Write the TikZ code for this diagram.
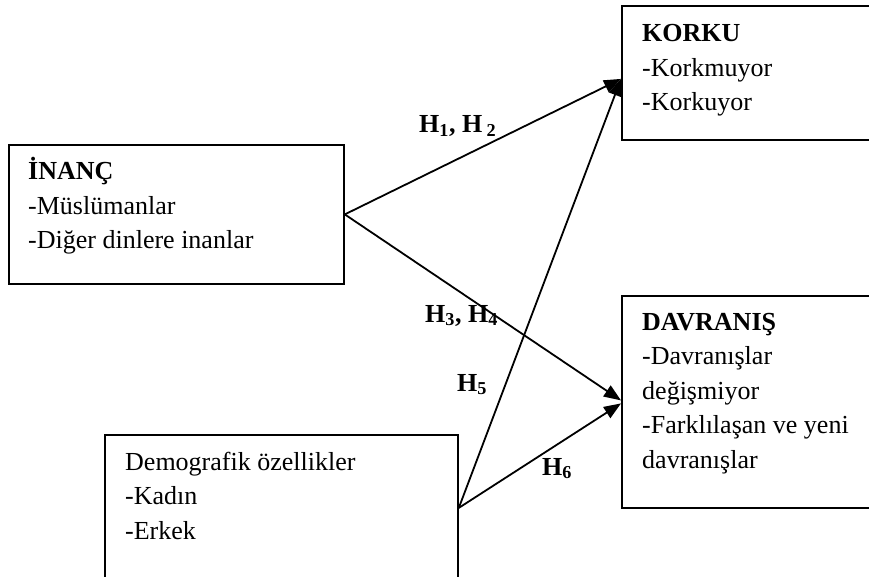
\documentclass[tikz,border=0pt]{standalone}
\usepackage{fontspec}
\setmainfont{Liberation Serif}
\usetikzlibrary{arrows.meta,calc}
\tikzset{
  box/.style={draw, line width=1.8pt, rectangle, inner sep=0pt, anchor=north west},
  txt/.style={anchor=base west, inner sep=0pt, font=\fontsize{26}{34.5}\selectfont},
  hlab/.style={anchor=base west, inner sep=0pt, font=\fontsize{26}{30}\selectfont\bfseries},
  conn/.style={line width=1.8pt, -{Triangle[length=17pt,width=13pt]}},
}
\begin{document}
\begin{tikzpicture}[x=1pt,y=-1pt]
\useasboundingbox (0,0) rectangle (869,577);
\clip (0,0) rectangle (869,577);
% boxes
\node[box, minimum width=269pt, minimum height=134pt] (K) at (621,5) {};
\node[box, minimum width=335pt, minimum height=139pt] (I) at (8,144) {};
\node[box, minimum width=269pt, minimum height=212pt] (D) at (621,295) {};
\node[box, minimum width=353pt, minimum height=146pt] (G) at (104,434) {};
% texts
\node[txt] (Kt) at (642,42) {\parbox[t]{220pt}{\raggedright\textbf{KORKU}\\-Korkmuyor\\-Korkuyor}};
\node[txt] (It) at (28,180) {\parbox[t]{300pt}{\raggedright\textbf{İNANÇ}\\-Müslümanlar\\-Diğer dinlere inanlar}};
\node[txt] (Dt) at (642,330) {\parbox[t]{225pt}{\raggedright\textbf{DAVRANIŞ}\\-Davranışlar\\değişmiyor\\-Farklılaşan ve yeni\\davranışlar}};
\node[txt] (Gt) at (125,470) {\parbox[t]{320pt}{\raggedright Demografik özellikler\\-Kadın\\-Erkek}};
% connectors
\draw[conn] (I.east) -- ([yshift=-6pt]K.west);
\draw[conn] (I.east) -- ([yshift=1.5pt]D.west);
\draw[conn] (G.east) -- ([yshift=-6pt]K.west);
\draw[conn] (G.east) -- ([yshift=-1.5pt]D.west);
% labels
\node[hlab] (h12) at (419,133) {H\textsubscript{1}, H\,\textsubscript{2}};
\node[hlab] (h34) at (425,322) {H\textsubscript{3}, H\textsubscript{4}};
\node[hlab] (h5) at (457,391) {H\textsubscript{5}};
\node[hlab] (h6) at (542,475) {H\textsubscript{6}};
\end{tikzpicture}
\end{document}
